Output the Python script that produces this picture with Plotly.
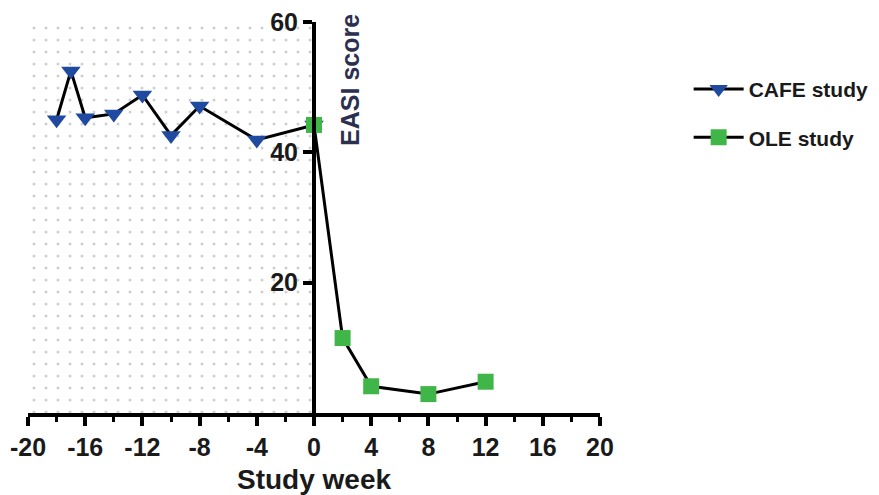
import plotly.graph_objects as go

# Study weeks and EASI scores
cafe_weeks = [-18, -17, -16, -14, -12, -10, -8, -4, 0]
cafe_easi = [45.0, 52.5, 45.3, 45.9, 48.8, 42.6, 47.1, 41.9, 44.2]

ole_weeks = [0, 2, 4, 8, 12]
ole_easi = [44.2, 11.5, 4.1, 2.9, 4.8]

# Pre-baseline window (CAFE study period) shaded with a dotted pattern
window_weeks = [-20, 0]
window_easi = [0, 60.5]

x_ticks = list(range(-20, 21, 4))
y_ticks = [20, 40, 60]

FONT = "Liberation Sans, Arial, sans-serif"
TEXT = "#1a1a1a"

fig = go.Figure()

fig.add_trace(go.Scatter(
    x=[window_weeks[0], window_weeks[1], window_weeks[1], window_weeks[0], window_weeks[0]],
    y=[window_easi[0], window_easi[0], window_easi[1], window_easi[1], window_easi[0]],
    mode="lines", fill="toself",
    fillcolor="white",
    fillpattern=dict(shape=".", size=12, solidity=0.05, fgcolor="#a0a0a0", bgcolor="white"),
    line=dict(width=0), hoverinfo="skip", showlegend=False, cliponaxis=False,
))

fig.add_trace(go.Scatter(
    x=cafe_weeks, y=cafe_easi, name="CAFE study", mode="lines+markers",
    legendgroup="cafe",
    line=dict(color="black", width=3),
    marker=dict(symbol="triangle-down", size=17, color="#1f4a9f"),
    cliponaxis=False,
))

fig.add_trace(go.Scatter(
    x=ole_weeks, y=ole_easi, name="OLE study", mode="lines+markers",
    legendgroup="ole",
    line=dict(color="black", width=3),
    marker=dict(symbol="square", size=16, color="#41b648"),
    cliponaxis=False,
))

fig.add_annotation(
    text="EASI score", textangle=-90, showarrow=False,
    xref="paper", yref="paper", x=0.563, y=0.852,
    xanchor="center", yanchor="middle",
    font=dict(family=FONT, size=25, color="#2c3050", weight="bold"),
)

fig.update_layout(
    width=879, height=495,
    margin=dict(l=28, r=279, t=22, b=82, autoexpand=False),
    plot_bgcolor="white", paper_bgcolor="white",
    font=dict(family=FONT, color=TEXT, weight="bold"),
    showlegend=True,
    legend=dict(
        x=1.155, xref="paper", xanchor="left", yanchor="top", y=0.88,
        font=dict(family=FONT, size=21, color=TEXT, weight="bold"),
        bgcolor="rgba(0,0,0,0)", itemwidth=50,
        tracegroupgap=18, traceorder="grouped",
    ),
    xaxis=dict(
        range=[-20, 20], tickvals=x_ticks, ticktext=[str(v) for v in x_ticks],
        showgrid=False, zeroline=False, automargin=False,
        showline=True, linecolor="black", linewidth=4,
        ticks="outside", ticklen=9, tickwidth=4, tickcolor="black",
        minor=dict(dtick=2, tick0=0, ticks="outside", ticklen=5, tickwidth=3, tickcolor="black"),
        tickfont=dict(family=FONT, size=25, color=TEXT, weight="bold"),
        title=dict(text="Study week", standoff=16,
                   font=dict(family=FONT, size=28, color=TEXT, weight="bold")),
    ),
    yaxis=dict(
        range=[0, 60], tickvals=y_ticks, showgrid=False, zeroline=False,
        anchor="free", position=0.5, side="left", automargin=False,
        showline=True, linecolor="black", linewidth=4,
        ticks="outside", ticklen=9, tickwidth=4, tickcolor="black",
        tickfont=dict(family=FONT, size=25, color=TEXT, weight="bold"),
    ),
)

fig.write_html("out.html")
